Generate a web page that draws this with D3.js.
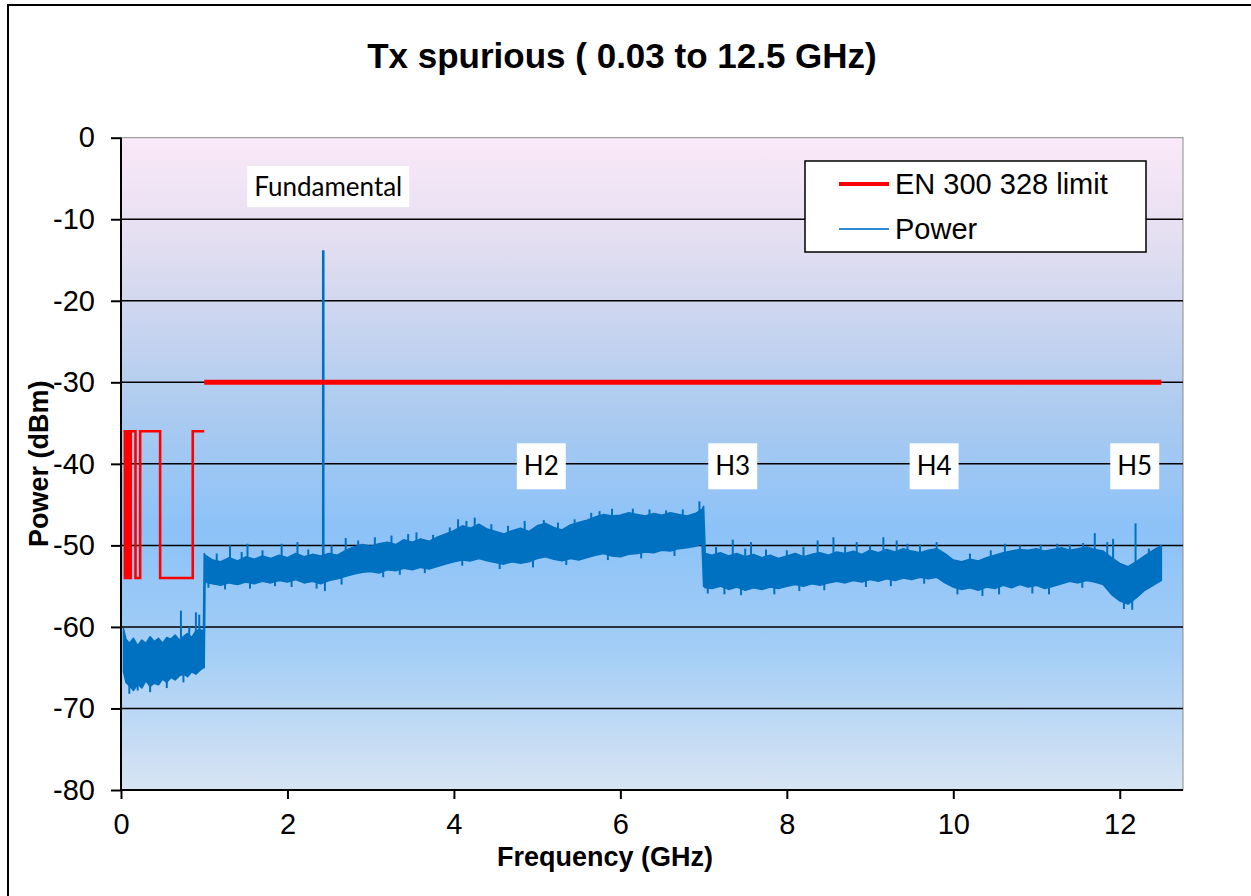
<!DOCTYPE html>
<html>
<head>
<meta charset="utf-8">
<script src="https://cdn.jsdelivr.net/npm/d3@7"></script>
<style>
  body { margin: 0; background: #fff; }
  text { font-family: Arial, "Liberation Sans", sans-serif; fill: #000; }
  .note text { font-family: Lato, "Open Sans", sans-serif; }
</style>
</head>
<body>
<div id="chart"></div>
<script>
// axis ticks
const xTicks = [0, 2, 4, 6, 8, 10, 12];
const yTicks = [0, -10, -20, -30, -40, -50, -60, -70, -80];

// EN 300 328 limit, [GHz, dBm], stepped
const limitSteps = [
  [0.03, -36], [0.047, -54], [0.074, -36], [0.0875, -54], [0.118, -36],
  [0.174, -54], [0.23, -36], [0.47, -54], [0.862, -36], [1.0, -36]
];
const limitHigh = [[1.0, -30], [12.5, -30]];

const powerBand = [
  [0.03, -65.5, -60.2], [0.06, -66.8, -61.5], [0.1, -67.2, -62.0], [0.15, -67.8, -61.4],
  [0.2, -67.0, -62.3], [0.25, -67.5, -61.6], [0.3, -66.6, -62.0], [0.35, -67.3, -61.2],
  [0.4, -66.9, -61.8], [0.45, -67.1, -61.4], [0.5, -66.4, -62.0], [0.55, -66.8, -61.3],
  [0.6, -66.2, -61.5], [0.65, -66.5, -61.0], [0.7, -66.0, -61.6], [0.75, -65.8, -61.2],
  [0.8, -66.1, -60.8], [0.85, -65.5, -61.3], [0.9, -65.8, -60.5], [0.95, -65.3, -60.3],
  [0.99, -65.0, -60.6], [1.0, -65.0, -51.0], [1.01, -54.5, -51.2],
  [1.1, -54.7, -51.8], [1.2, -54.9, -52.0], [1.3, -54.6, -51.5], [1.4, -54.8, -51.9],
  [1.5, -54.5, -51.4], [1.6, -54.7, -51.7], [1.7, -54.4, -51.3], [1.8, -54.6, -51.6],
  [1.9, -54.3, -51.2], [2.0, -54.5, -51.5], [2.1, -54.2, -51.0], [2.2, -54.6, -51.4],
  [2.3, -54.4, -51.1], [2.4, -54.7, -51.3], [2.5, -54.3, -51.0], [2.6, -54.1, -51.2],
  [2.7, -53.8, -50.6], [2.8, -53.5, -50.2], [2.9, -53.3, -49.9], [3.0, -53.2, -50.1],
  [3.1, -53.4, -49.8], [3.2, -53.0, -49.6], [3.3, -53.1, -49.9], [3.4, -52.8, -49.3],
  [3.5, -53.0, -49.6], [3.6, -52.7, -49.2], [3.7, -52.9, -49.5], [3.8, -52.6, -49.0],
  [3.9, -52.3, -48.6], [4.0, -52.0, -48.2], [4.1, -51.8, -47.6], [4.2, -51.9, -47.9],
  [4.3, -51.6, -47.4], [4.4, -51.9, -48.0], [4.5, -52.1, -48.3], [4.6, -52.3, -48.6],
  [4.7, -52.0, -48.2], [4.8, -52.2, -47.9], [4.9, -52.0, -48.3], [5.0, -51.6, -47.6],
  [5.1, -51.4, -47.3], [5.2, -51.7, -47.8], [5.3, -51.9, -48.1], [5.4, -51.6, -47.5],
  [5.5, -51.8, -47.2], [5.6, -51.5, -46.9], [5.7, -51.2, -46.5], [5.8, -51.0, -46.2],
  [5.9, -51.3, -46.4], [6.0, -51.4, -46.3], [6.1, -51.1, -46.0], [6.2, -51.0, -46.2],
  [6.3, -50.8, -46.4], [6.4, -50.9, -46.1], [6.5, -50.6, -46.3], [6.6, -50.7, -46.0],
  [6.7, -50.4, -46.2], [6.8, -50.3, -46.4], [6.9, -50.1, -46.1], [6.98, -49.8, -45.6],
  [7.0, -55.0, -45.2], [7.02, -55.2, -51.0],
  [7.1, -55.3, -51.2], [7.2, -55.0, -50.9], [7.3, -55.4, -51.3], [7.4, -55.1, -51.0],
  [7.5, -55.5, -51.4], [7.6, -55.2, -51.1], [7.7, -55.4, -51.5], [7.8, -55.1, -51.2],
  [7.9, -55.3, -51.6], [8.0, -55.0, -51.3], [8.1, -54.8, -51.0], [8.2, -55.0, -51.4],
  [8.3, -54.7, -51.1], [8.4, -54.9, -50.9], [8.5, -54.6, -51.2], [8.6, -54.4, -50.8],
  [8.7, -54.6, -51.0], [8.8, -54.3, -50.7], [8.9, -54.5, -51.1], [9.0, -54.2, -50.6],
  [9.1, -54.4, -50.9], [9.2, -54.1, -50.5], [9.3, -54.3, -50.8], [9.4, -54.0, -50.4],
  [9.5, -54.2, -50.7], [9.6, -53.9, -50.9], [9.7, -54.1, -50.6], [9.8, -53.9, -50.4],
  [9.9, -54.6, -51.0], [10.0, -55.1, -51.8], [10.1, -55.4, -52.0], [10.2, -55.2, -51.7],
  [10.3, -55.5, -51.9], [10.4, -55.1, -51.5], [10.5, -55.3, -51.2], [10.6, -54.9, -50.9],
  [10.7, -55.2, -50.7], [10.8, -54.8, -50.5], [10.9, -55.1, -50.6], [11.0, -54.9, -50.4],
  [11.1, -55.3, -50.7], [11.2, -55.0, -50.5], [11.3, -54.7, -50.3], [11.4, -54.4, -50.6],
  [11.5, -54.6, -50.4], [11.6, -54.3, -50.2], [11.7, -54.5, -50.5], [11.8, -54.8, -50.7],
  [11.9, -56.0, -51.5], [12.0, -56.8, -52.2], [12.1, -57.2, -52.6], [12.2, -56.4, -52.0],
  [12.3, -55.5, -51.3], [12.4, -54.9, -50.6], [12.5, -54.3, -50.0]
];

// spurs sticking up out of the band: [GHz, peak dBm]
const powerSpikes = [
  [0.72, -58.0], [0.82, -60.0], [0.9, -58.2], [0.94, -58.5],
  [1.31, -50.0], [1.52, -49.8], [1.93, -49.8], [2.12, -49.6], [2.43, -13.8],
  [2.53, -50.0], [2.7, -49.1], [3.05, -49.0], [3.55, -48.4], [4.05, -46.8],
  [4.25, -46.6], [5.08, -46.9], [5.9, -45.5], [6.95, -44.6], [7.35, -49.3],
  [7.57, -49.6], [8.37, -49.4], [8.56, -49.0], [8.84, -49.6], [9.16, -49.0],
  [9.32, -49.4], [9.8, -49.6], [10.62, -49.8], [11.4, -49.9], [11.56, -49.7],
  [11.7, -48.5], [11.85, -49.6], [11.92, -49.2], [12.19, -47.3],
  [1.15, -51.0], [1.45, -50.8], [1.7, -50.6], [2.25, -50.5], [2.85, -49.4],
  [3.25, -48.8], [3.45, -48.6], [3.75, -48.7], [3.95, -47.8], [4.15, -47.0],
  [4.45, -47.4], [4.65, -47.6], [4.85, -47.0], [5.25, -47.2], [5.45, -46.8],
  [5.65, -46.0], [5.75, -45.8], [6.15, -45.5], [6.35, -45.6], [6.55, -45.7],
  [6.75, -45.6], [7.15, -50.2], [7.5, -50.4], [7.75, -50.5], [8.0, -50.6],
  [8.2, -50.2], [8.7, -50.1], [9.0, -50.0], [9.45, -49.8], [9.6, -49.9],
  [10.2, -51.0], [10.45, -50.6], [10.8, -50.0], [11.05, -49.9], [11.25, -49.8],
  [12.35, -50.4]
];

// dips below the band: [GHz, lowest dBm]
const powerDips = [
  [0.1, -68.2], [0.2, -67.8], [0.35, -68.0], [0.55, -67.5], [0.75, -66.8],
  [1.05, -55.2], [1.25, -55.4], [1.55, -55.3], [1.85, -55.0], [2.05, -55.1],
  [2.35, -55.3], [2.45, -55.6], [2.65, -54.8], [3.15, -53.9], [3.35, -53.6],
  [3.65, -53.4], [4.1, -52.5], [4.55, -52.9], [4.95, -52.7], [5.35, -52.4],
  [5.85, -51.8], [6.25, -51.6], [6.65, -51.3], [7.05, -55.9], [7.25, -56.0],
  [7.45, -56.1], [7.85, -56.0], [8.15, -55.6], [8.45, -55.5], [8.95, -55.1],
  [9.25, -55.0], [9.65, -54.7], [10.05, -56.0], [10.35, -56.2], [10.55, -56.0],
  [10.95, -55.9], [11.15, -56.0], [11.55, -55.2], [12.05, -57.8], [12.15, -57.9]
];

// annotation labels: [text, GHz, dBm]
const notes = [
  ["Fundamental", 2.49, -6.0],
  ["H2", 5.05, -40.3],
  ["H3", 7.35, -40.3],
  ["H4", 9.77, -40.3],
  ["H5", 12.18, -40.3]
];

const legendItems = [
  { label: "EN 300 328 limit", color: "#ff0000", width: 4 },
  { label: "Power", color: "#2f8ad8", width: 2 }
];

const W = 1251, H = 896;
const m = { top: 137.7, right: 1183, bottom: 790, left: 121 };

const svg = d3.select("#chart").append("svg")
  .attr("width", W).attr("height", H);

// outer chart border
svg.append("rect")
  .attr("x", 8).attr("y", 5).attr("width", 1280).attr("height", 920)
  .attr("fill", "#fff").attr("stroke", "#000").attr("stroke-width", 2);

const x = d3.scaleLinear().domain([0, 12.76]).range([m.left, m.right]);
const y = d3.scaleLinear().domain([-80, 0]).range([m.bottom, m.top]);

// plot background gradient
const grad = svg.append("defs").append("linearGradient")
  .attr("id", "bg").attr("x1", 0).attr("y1", 0).attr("x2", 0).attr("y2", 1);
[["0%", "#fbe9f8"], ["18%", "#e0ddf0"], ["42%", "#accbef"], ["60%", "#8cc2f8"],
 ["78%", "#a2cdf6"], ["100%", "#d8e4f3"]].forEach(([o, c]) =>
  grad.append("stop").attr("offset", o).attr("stop-color", c));

svg.append("rect")
  .attr("x", m.left).attr("y", m.top)
  .attr("width", m.right - m.left).attr("height", m.bottom - m.top)
  .attr("fill", "url(#bg)").attr("stroke", "#8c8c8c").attr("stroke-width", 1);

// gridlines
svg.append("g")
  .selectAll("line")
  .data(yTicks.filter((d) => d !== 0 && d !== -80))
  .join("line")
  .attr("x1", m.left).attr("x2", m.right)
  .attr("y1", (d) => y(d)).attr("y2", (d) => y(d))
  .attr("stroke", "#000").attr("stroke-width", 1.5);

// power trace
const band = d3.area()
  .x((d) => x(d[0]))
  .y0((d) => y(d[1]))
  .y1((d) => y(d[2]));

svg.append("path")
  .datum(powerBand)
  .attr("fill", "#0070c0")
  .attr("stroke", "#0070c0")
  .attr("stroke-width", 1.5)
  .attr("stroke-linejoin", "round")
  .attr("d", band);

// middle of the band at a frequency, used as the foot of spurs and dips
const bisect = d3.bisector((d) => d[0]).left;
const bandMid = (f) => {
  const r = powerBand[Math.min(bisect(powerBand, f), powerBand.length - 1)];
  return (r[1] + r[2]) / 2;
};

svg.append("g")
  .selectAll("line")
  .data(powerSpikes.concat(powerDips))
  .join("line")
  .attr("x1", (d) => x(d[0])).attr("x2", (d) => x(d[0]))
  .attr("y1", (d) => y(bandMid(d[0])))
  .attr("y2", (d) => y(d[1]))
  .attr("stroke", "#0070c0")
  .attr("stroke-width", (d) => (d[1] > -30 ? 2.6 : 2));

// limit line
const stepLine = d3.line()
  .x((d) => x(d[0]))
  .y((d) => y(d[1]))
  .curve(d3.curveStepAfter);

svg.append("path")
  .datum(limitSteps)
  .attr("fill", "none")
  .attr("stroke", "#ff0000")
  .attr("stroke-width", 2.6)
  .attr("d", stepLine);

svg.append("path")
  .datum(limitHigh)
  .attr("fill", "none")
  .attr("stroke", "#ff0000")
  .attr("stroke-width", 5)
  .attr("d", d3.line().x((d) => x(d[0])).y((d) => y(d[1])));

// axes, plain hyphen for negatives like the original
const yAxis = d3.axisLeft(y).tickValues(yTicks).tickFormat((d) => String(d))
  .tickSize(10).tickPadding(16).tickSizeOuter(0);
const xAxis = d3.axisBottom(x).tickValues(xTicks).tickFormat((d) => String(d))
  .tickSize(9).tickPadding(14).tickSizeOuter(0);

const gy = svg.append("g").attr("transform", `translate(${m.left},0)`).call(yAxis);
const gx = svg.append("g").attr("transform", `translate(0,${m.bottom})`).call(xAxis);

[gx, gy].forEach((g) => {
  g.select(".domain").attr("stroke", "#000").attr("stroke-width", 2);
  g.selectAll(".tick line").attr("stroke", "#000").attr("stroke-width", 2);
  g.selectAll(".tick text")
    .attr("font-family", "Arial, 'Liberation Sans', sans-serif")
    .attr("font-size", 29).attr("fill", "#000");
});
gy.select(".domain").attr("d", `M0,${m.top}V${m.bottom}`);
gx.select(".domain").attr("d", `M${m.left},0H${m.right}`);

// titles
svg.append("text")
  .attr("x", 622).attr("y", 68)
  .attr("text-anchor", "middle")
  .attr("font-size", 35).attr("font-weight", "bold")
  .text("Tx spurious ( 0.03 to 12.5 GHz)");

svg.append("text")
  .attr("transform", `translate(48,${(m.top + m.bottom) / 2}) rotate(-90)`)
  .attr("text-anchor", "middle")
  .attr("font-size", 27).attr("font-weight", "bold")
  .text("Power (dBm)");

svg.append("text")
  .attr("x", 605).attr("y", 866)
  .attr("text-anchor", "middle")
  .attr("font-size", 27).attr("font-weight", "bold")
  .text("Frequency (GHz)");

// annotation boxes
const note = svg.append("g").attr("class", "note")
  .selectAll("g")
  .data(notes)
  .join("g")
  .attr("transform", (d) => `translate(${x(d[1])},${y(d[2])})`);

note.append("text")
  .attr("text-anchor", "middle")
  .attr("dy", "0.35em")
  .attr("font-size", 26)
  .text((d) => d[0]);

note.each(function (d) {
  const g = d3.select(this);
  const bb = g.select("text").node().getBBox();
  const h = d[0].length > 2 ? 41 : 46;
  g.insert("rect", "text")
    .attr("x", bb.x - 7).attr("y", -h / 2)
    .attr("width", bb.width + 14).attr("height", h)
    .attr("fill", "#fff");
});

// legend
const lg = svg.append("g").attr("transform", "translate(805,161)");
lg.append("rect")
  .attr("width", 341).attr("height", 91)
  .attr("fill", "#fff").attr("stroke", "#000").attr("stroke-width", 1.5);

const li = lg.selectAll(".item")
  .data(legendItems)
  .join("g")
  .attr("class", "item")
  .attr("transform", (d, i) => `translate(0,${23 + i * 45})`);

li.append("line")
  .attr("x1", 34).attr("x2", 84)
  .attr("stroke", (d) => d.color)
  .attr("stroke-width", (d) => d.width);

li.append("text")
  .attr("x", 90).attr("dy", "0.35em")
  .attr("font-size", 29)
  .text((d) => d.label);
</script>
</body>
</html>
